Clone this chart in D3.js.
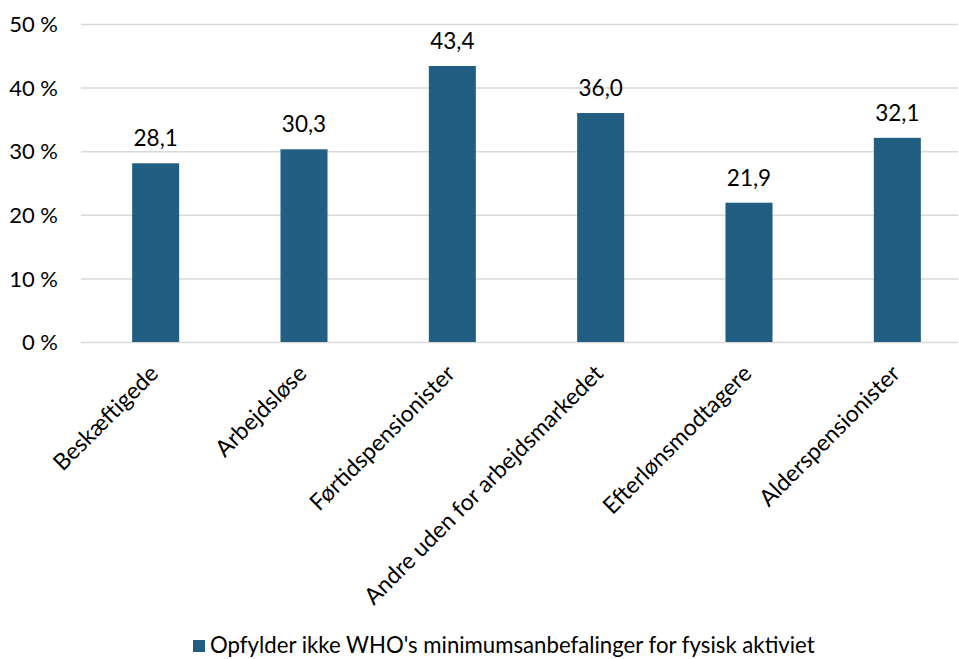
<!DOCTYPE html>
<html><head><meta charset="utf-8">
<script src="https://cdn.jsdelivr.net/npm/d3@7"></script>
<style>body{margin:0;background:#fff}svg{display:block}text{font-family:Lato,"Open Sans",sans-serif;fill:#000}</style>
</head><body><svg id="c" width="959" height="659"></svg>
<script>
const categories = ["Beskæftigede","Arbejdsløse","Førtidspensionister","Andre uden for arbejdsmarkedet","Efterlønsmodtagere","Alderspensionister"];
const values = [28.1,30.3,43.4,36.0,21.9,32.1];
const yTicks = [0,10,20,30,40,50];
const seriesName = "Opfylder ikke WHO's minimumsanbefalinger for fysisk aktiviet";

const svg = d3.select("#c");
const x = d3.scaleBand().domain(categories).range([81.5, 971.5]).paddingInner(0.683).paddingOuter(0.3415);
const y = d3.scaleLinear().domain([0,50]).range([342,24]);
const color = "#215e82";
const fmt = v => d3.format(".1f")(v).replace(".", ",");

const yAxis = svg.append("g").attr("transform","translate(81,0)")
  .call(d3.axisLeft(y).tickValues(yTicks).tickSize(-877).tickFormat(d => d + " %"));
yAxis.select(".domain").remove();
yAxis.selectAll(".tick line").attr("stroke","#d9d9d9").attr("stroke-width",1.5);
yAxis.selectAll(".tick text").attr("x",-23).attr("dy","0.35em").style("font-size","22px").style("font-family","Lato");

svg.append("g").selectAll("rect").data(values).join("rect")
  .attr("x",(d,i)=>x(categories[i])).attr("width",x.bandwidth())
  .attr("y",d=>y(d)).attr("height",d=>y(0)-y(d)).attr("fill",color);

svg.append("g").selectAll("text").data(values).join("text")
  .attr("x",(d,i)=>x(categories[i])+x.bandwidth()/2).attr("y",d=>y(d)-17)
  .attr("text-anchor","middle").style("font-size","22.5px").text(fmt);

const xAxis = svg.append("g").attr("transform","translate(0,342)")
  .call(d3.axisBottom(x).tickSize(0));
xAxis.select(".domain").remove();
xAxis.selectAll(".tick text")
  .attr("text-anchor","end").attr("dy",0).attr("y",0)
  .attr("transform","translate(4,33) rotate(-45)")
  .style("font-size","23px");

const lg = svg.append("g");
lg.append("rect").attr("x",193).attr("y",640).attr("width",12).attr("height",12).attr("fill",color);
lg.append("text").attr("x",210).attr("y",653).style("font-size","22.2px").text(seriesName);
</script></body></html>
